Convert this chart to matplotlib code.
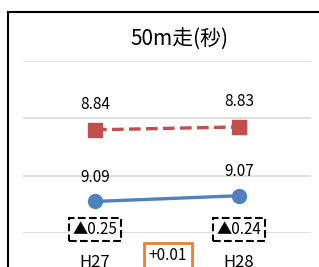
import matplotlib.pyplot as plt
from matplotlib.lines import Line2D

plt.rcParams['font.family'] = ['Noto Sans CJK JP', 'DejaVu Sans']

categories = ['H27', 'H28']
city = [8.84, 8.83]       # red dashed
school = [9.09, 9.07]     # blue solid
diff_labels = ['▲0.25', '▲0.24']
change_label = '+0.01'

fig = plt.figure(figsize=(3.19, 2.67), dpi=100)
ax = fig.add_axes([23/319, 34/267, 288/319, 172/267])

x = [0, 1]
ax.plot(x, city, color='#C0504D', linestyle=(0, (3.5, 1.6)), linewidth=2.4,
        marker='s', markersize=10.5, zorder=3)
ax.plot(x, school, color='#4F81BD', linestyle='-', linewidth=2.4,
        marker='o', markersize=10, zorder=3)

for i in x:
    ax.annotate(f"{city[i]:.2f}", (i, city[i]), xytext=(0, 18), textcoords='offset points',
                ha='center', va='center', fontsize=11)
    ax.annotate(f"{school[i]:.2f}", (i, school[i]), xytext=(0, 17.5), textcoords='offset points',
                ha='center', va='center', fontsize=11)
    ax.text(i, 9.188, diff_labels[i], ha='center', va='center', fontsize=11,
            bbox=dict(boxstyle='square,pad=0.22', fc='white', ec='black', ls='--', lw=1.5))

ax.set_xlim(-0.5, 1.5)
ax.set_ylim(9.2, 8.6)
ax.set_yticks([8.6, 8.8, 9.0, 9.2])
ax.yaxis.grid(True, color='#D9D9D9', linewidth=1.2)
ax.set_axisbelow(True)
ax.set_yticklabels([])
ax.tick_params(axis='y', length=0)
ax.set_xticks(x)
ax.set_xticklabels(categories, fontsize=12)
ax.tick_params(axis='x', length=0, pad=15)
for s in ax.spines.values():
    s.set_visible(False)

fig.text(0.563, 1 - 40/267, '50m走(秒)', ha='center', va='center', fontsize=15)
fig.text(168/319, 1 - 256/267, change_label, ha='center', va='center', fontsize=11,
         bbox=dict(boxstyle='square,pad=0.3', fc='white', ec='#ED7D31', lw=2))

# outer chart border (only top and left visible in this crop)
fig.add_artist(Line2D([8/319, 8/319], [0, 1 - 12/267], color='black', lw=1.5,
                      transform=fig.transFigure))
fig.add_artist(Line2D([8/319, 1], [1 - 12/267, 1 - 12/267], color='black', lw=1.5,
                      transform=fig.transFigure))

fig.savefig('out.png', dpi=100)
